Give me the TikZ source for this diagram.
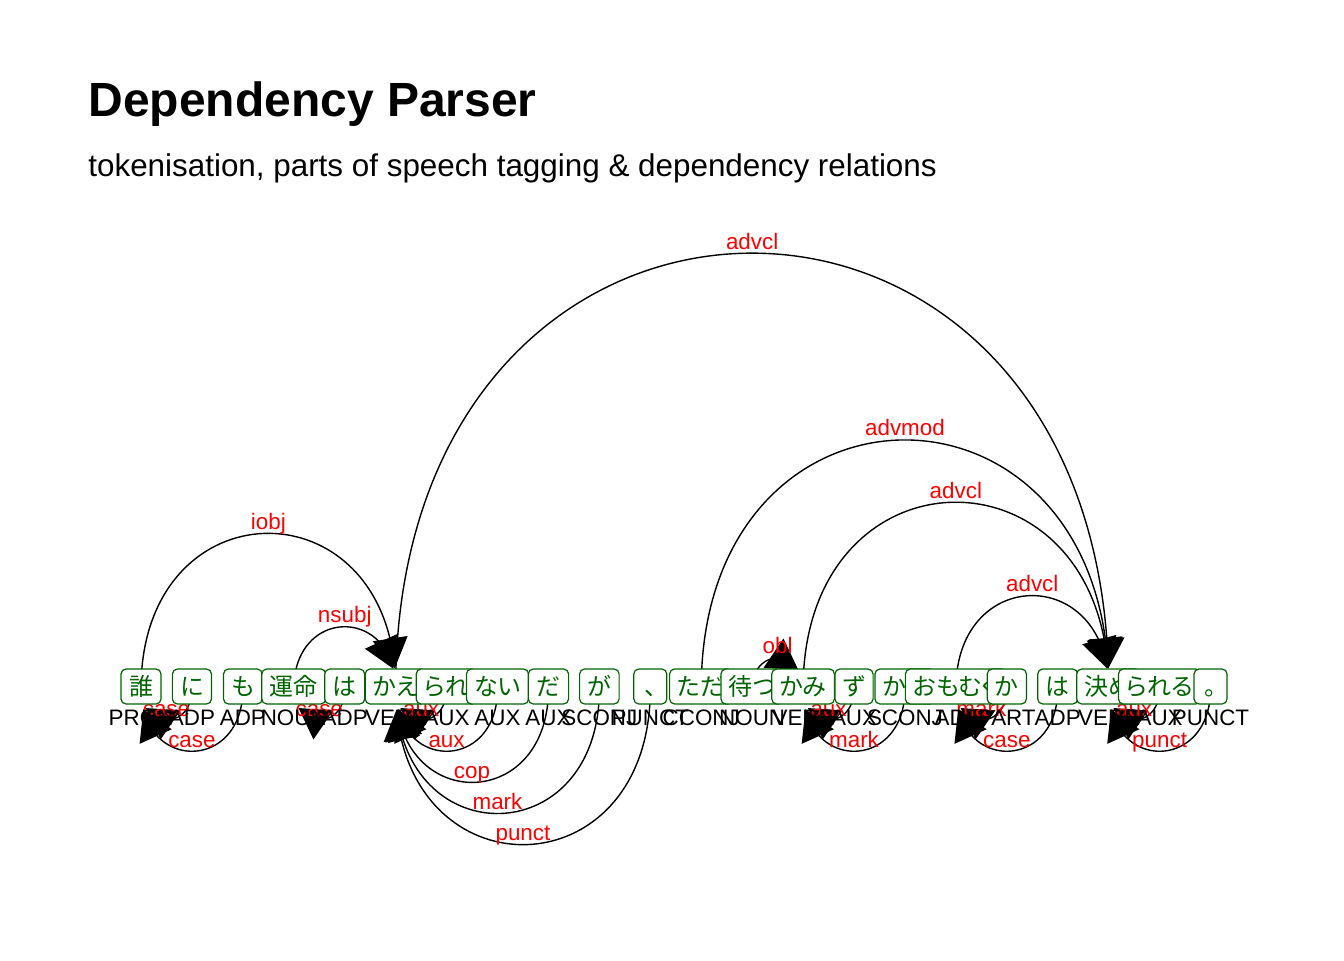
\documentclass[tikz,border=0pt]{standalone}
\usepackage{fontspec}
\setmainfont{Liberation Sans}
\newfontfamily\jpfont[RawFeature=+palt]{Noto Sans CJK JP}
\usetikzlibrary{arrows.meta,bending}
\definecolor{tokgreen}{HTML}{006400}
\definecolor{relred}{HTML}{FF0000}
\tikzset{
  tok/.style={draw=tokgreen, fill=white, text=tokgreen, line width=0.6pt,
              rounded corners=2.5pt, font=\jpfont\fontsize{12}{12}\selectfont,
              minimum height=17.5pt, minimum width=16.5pt,
              inner xsep=4pt, inner ysep=0pt, text height=10.5pt, text depth=1.5pt},
  upos/.style={font=\fontsize{11.2}{11.2}\selectfont, anchor=base, inner sep=0pt},
  rel/.style={font=\fontsize{11.2}{11.2}\selectfont, text=relred, anchor=base,
              inner sep=0pt, yshift=2pt},
  dep/.style={line width=0.7pt, -{Triangle[flex, length=15pt, width=17.5pt]},
              shorten >=10.5pt},
  arcup/.style={out=90, in=90, looseness=2.09},
  arcdown/.style={out=-90, in=-90, looseness=2.09},
}
\begin{document}
\begin{tikzpicture}[x=0.5pt, y=0.5pt]
  \useasboundingbox (0,0) rectangle (1344,960);
  % title
  \node[font=\bfseries\fontsize{24}{24}\selectfont, anchor=base west, inner sep=0pt]
    (title) at (88,843) {Dependency Parser};
  \node[font=\fontsize{15.7}{15.7}\selectfont, anchor=base west, inner sep=0pt]
    (subtitle) at (88,783.5) {tokenisation, parts of speech tagging \& dependency relations};
  % token positions
  \foreach \i in {1,...,22} \coordinate (t\i) at ({141+50.93*(\i-1)},271);
  % relations: dependent/head/label
  \foreach \dpt/\hd/\rl in {1/6/iobj, 2/1/case, 3/1/case, 4/6/nsubj, 5/4/case,
      6/20/advcl, 7/6/aux, 8/6/aux, 9/6/cop, 10/6/mark, 11/6/punct,
      12/20/advmod, 13/14/obl, 14/20/advcl, 15/14/aux, 16/14/mark,
      17/20/advcl, 18/17/mark, 19/17/case, 21/20/aux, 22/20/punct}{
    \ifnum\dpt<\hd
      \draw[dep] (t\dpt) to[arcup] node[rel, midway] {\rl} (t\hd);
    \else
      \draw[dep] (t\dpt) to[arcdown] node[rel, midway] {\rl} (t\hd);
    \fi
  }
  % tokens and tags
  \foreach \i/\w/\p in {1/誰/PRON, 2/に/ADP, 3/も/ADP, 4/運命/NOUN, 5/は/ADP,
      6/かえ/VERB, 7/られ/AUX, 8/ない/AUX, 9/だ/AUX, 10/が/SCONJ, 11/、/PUNCT,
      12/ただ/CCONJ, 13/待つ/NOUN, 14/かみ/VERB, 15/ず/AUX, 16/から/SCONJ,
      17/おもむく/ADJ, 18/か/PART, 19/は/ADP, 20/決め/VERB, 21/られる/AUX,
      22/。/PUNCT}{
    \node[tok] (w\i) at ([yshift=1.25pt]t\i) {\w};
    \node[upos] (p\i) at ([yshift=-18pt]t\i) {\p};
  }
\end{tikzpicture}
\end{document}
